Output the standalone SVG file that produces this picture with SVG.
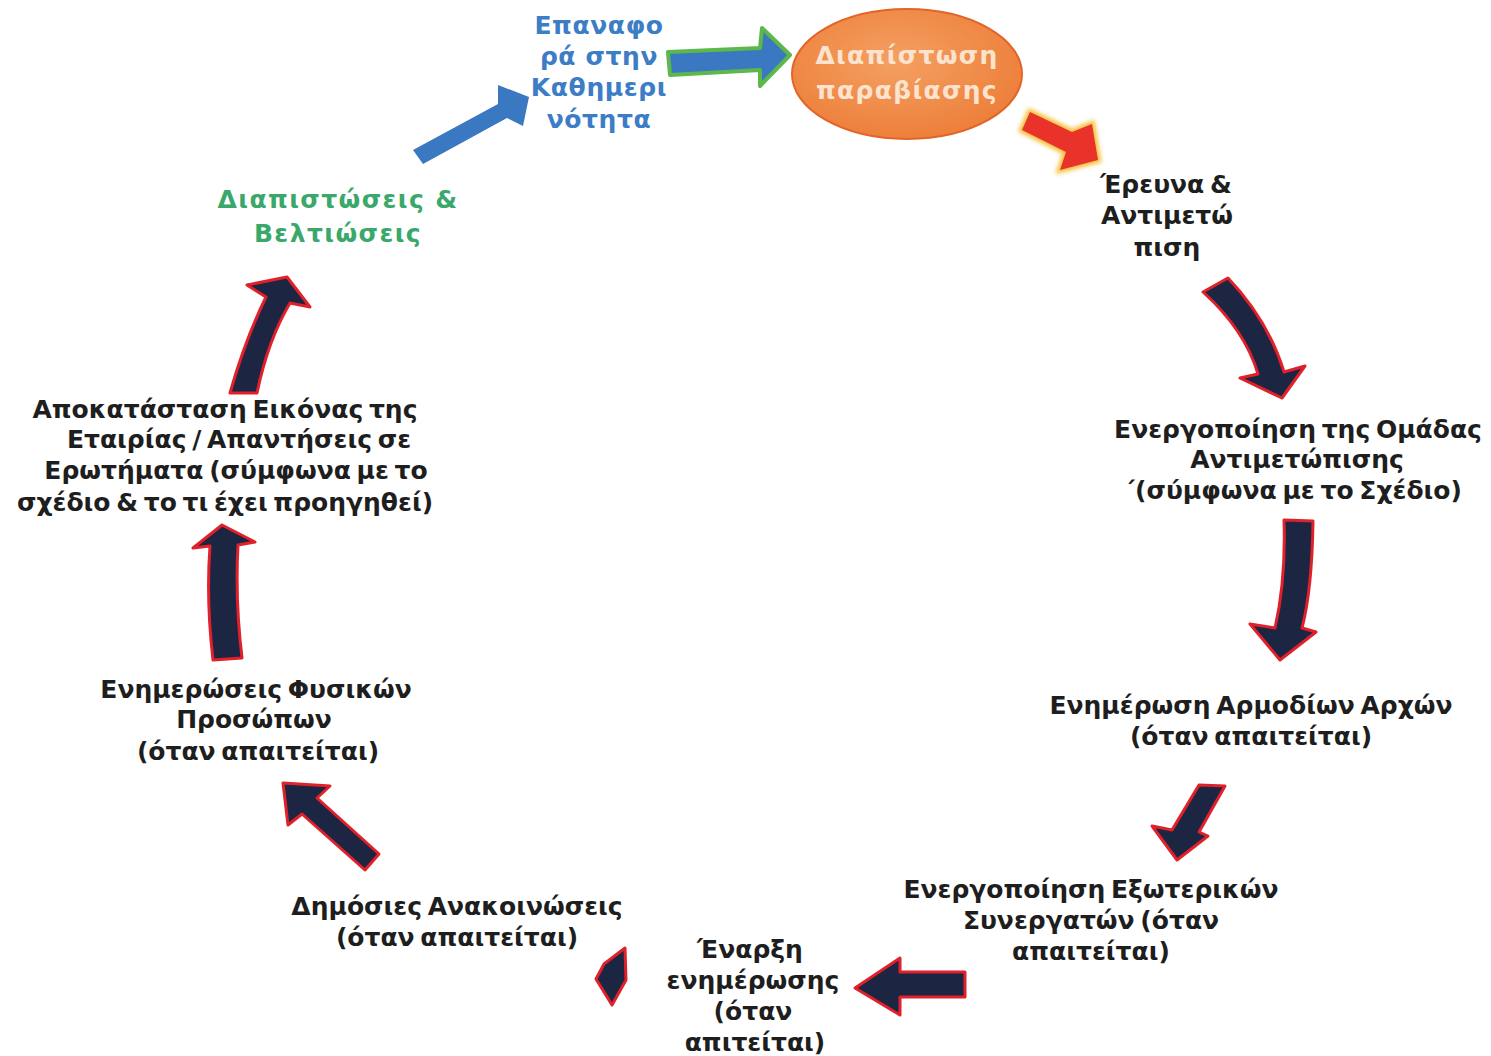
<svg xmlns="http://www.w3.org/2000/svg" width="1491" height="1056" viewBox="0 0 1491 1056">
<defs>
<style>
.t{font-family:"DejaVu Sans","Noto Sans",sans-serif;font-weight:bold;font-size:25px;fill:#1e1e1e;text-anchor:middle;word-spacing:-3px}
.g{fill:#3aa86b;letter-spacing:1.4px;word-spacing:0}
.b{fill:#3c7dc6;letter-spacing:0.6px;word-spacing:0}
.w{fill:#fbe3cf;letter-spacing:1.3px}
.dk{fill:#1c2541;stroke:#e0202a;stroke-width:3;stroke-linejoin:round}
</style>
<radialGradient id="og" cx="0.45" cy="0.4" r="0.7">
<stop offset="0" stop-color="#f4a062"/>
<stop offset="1" stop-color="#ec7a34"/>
</radialGradient>
<filter id="glow" x="-20%" y="-20%" width="140%" height="140%">
<feGaussianBlur stdDeviation="2"/>
</filter>
</defs>
<rect width="1491" height="1056" fill="#ffffff"/>

<g id="connectors">
<path d="M413,150 L498,104 L498,85 L529,97 L523,126 L507,118 L423,164 Z" fill="#3a78c2" stroke-linejoin="round"/>
<path d="M668,52 L760,48 L762,28 L790,55 L760,86 L760,70 L670,75 Z" fill="#3a78c2" stroke="#5cb84a" stroke-width="4" stroke-linejoin="round"/>
<g>
<path d="M1030,112 L1072,132 L1092,124 L1098,160 L1060,170 L1066,152 L1022,130 Z" fill="#f5c03a" filter="url(#glow)" stroke="#f5c03a" stroke-width="6"/>
<path d="M1030,112 L1072,132 L1092,124 L1098,160 L1060,170 L1066,152 L1022,130 Z" fill="#e8322a"/>
</g>
<path class="dk" d="M1203,292 L1228,278 Q1268,320 1284,372 L1305,366 L1282,398 L1240,378 L1258,374 Q1245,330 1203,292 Z"/>
<path class="dk" d="M1284,520 L1313,521 Q1312,590 1302,628 L1316,632 L1280,660 L1250,624 L1275,628 Q1286,580 1284,520 Z"/>
<path class="dk" d="M1199,785 L1225,786 L1199,832 L1208,836 L1177,860 L1152,826 L1172,830 Z"/>
<path class="dk" d="M965,972 L965,997 L900,997 L900,1015 L855,988 L900,958 L900,972 Z"/>
<path class="dk" d="M625,948 L626,980 L612,1005 L596,979 L604,964 Z"/>
<path class="dk" d="M379,854 L317,798 L330,786 L283,783 L288,825 L302,814 L365,870 Z"/>
<path class="dk" d="M213,660 L242,658 Q235,600 238,545 L255,542 L222,525 L193,548 L210,546 Q206,600 213,660 Z"/>
<path class="dk" d="M230,393 L257,393 Q268,340 290,303 L310,307 L287,277 L247,285 L266,297 Q245,340 230,393 Z"/>
</g>

<g id="n-epanafora">
<text class="t b" x="599" y="34">Επαναφο</text>
<text class="t b" x="599" y="65">ρά στην</text>
<text class="t b" x="599" y="96">Καθημερι</text>
<text class="t b" x="599" y="128">νότητα</text>
</g>

<g id="n-diapistosi">
<ellipse cx="907" cy="74" rx="115" ry="65" fill="url(#og)" stroke="#e2642a" stroke-width="2"/>
<text class="t w" x="907" y="64">Διαπίστωση</text>
<text class="t w" x="907" y="99">παραβίασης</text>
</g>

<g id="n-erevna">
<text class="t" x="1166" y="193">Έρευνα &amp;</text>
<text class="t" x="1167" y="224">Αντιμετώ</text>
<text class="t" x="1167" y="256">πιση</text>
</g>

<g id="n-omada">
<text class="t" x="1298" y="438">Ενεργοποίηση της Ομάδας</text>
<text class="t" x="1297" y="468">Αντιμετώπισης</text>
<text class="t" x="1293" y="499">΄(σύμφωνα με το Σχέδιο)</text>
</g>

<g id="n-arxes">
<text class="t" x="1251" y="714">Ενημέρωση Αρμοδίων Αρχών</text>
<text class="t" x="1251" y="745">(όταν απαιτείται)</text>
</g>

<g id="n-synergates">
<text class="t" x="1091" y="898">Ενεργοποίηση Εξωτερικών</text>
<text class="t" x="1091" y="929">Συνεργατών (όταν</text>
<text class="t" x="1091" y="960">απαιτείται)</text>
</g>

<g id="n-enarxi">
<text class="t" x="750" y="958">Έναρξη</text>
<text class="t" x="753" y="989">ενημέρωσης</text>
<text class="t" x="753" y="1020">(όταν</text>
<text class="t" x="755" y="1051">απιτείται)</text>
</g>

<g id="n-anakoinoseis">
<text class="t" x="457" y="915">Δημόσιες Ανακοινώσεις</text>
<text class="t" x="457" y="946">(όταν απαιτείται)</text>
</g>

<g id="n-fysika">
<text class="t" x="256" y="698">Ενημερώσεις Φυσικών</text>
<text class="t" x="254" y="728">Προσώπων</text>
<text class="t" x="258" y="760">(όταν απαιτείται)</text>
</g>

<g id="n-apokatastasi">
<text class="t" x="225" y="418">Αποκατάσταση Εικόνας της</text>
<text class="t" x="239" y="448">Εταιρίας / Απαντήσεις σε</text>
<text class="t" x="236" y="479">Ερωτήματα (σύμφωνα με το</text>
<text class="t" x="225" y="511">σχέδιο &amp; το τι έχει προηγηθεί)</text>
</g>

<g id="n-veltioseis">
<text class="t g" x="338" y="208">Διαπιστώσεις &amp;</text>
<text class="t g" x="338" y="242">Βελτιώσεις</text>
</g>
</svg>
